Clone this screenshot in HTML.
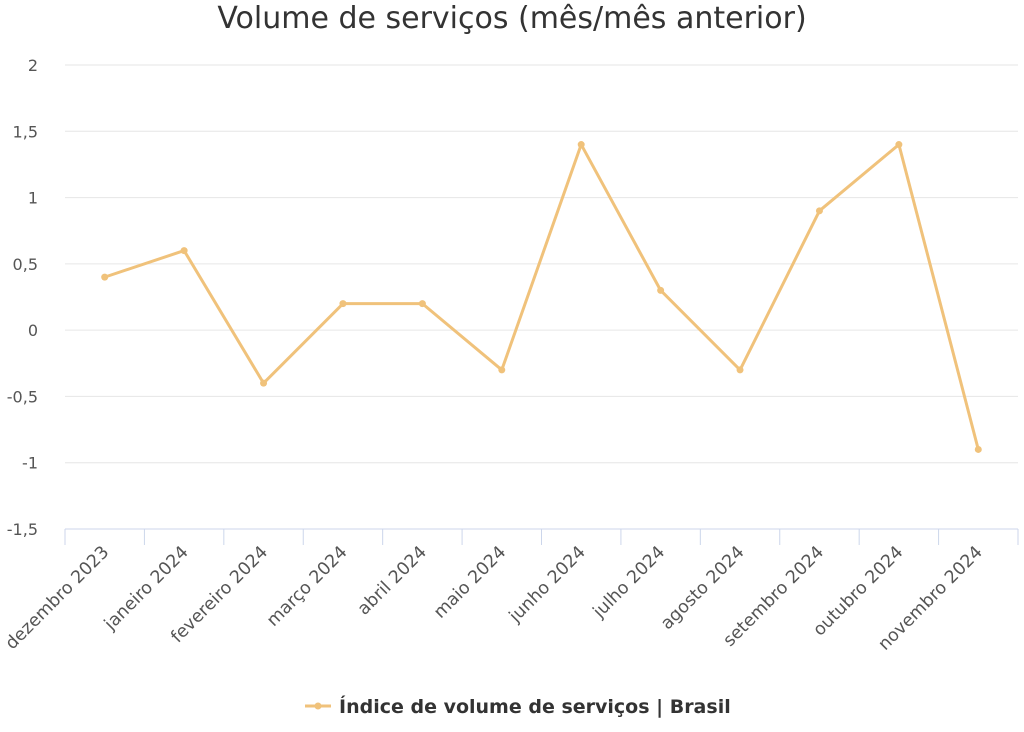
<!DOCTYPE html>
<html><head><meta charset="utf-8"><style>
body{margin:0;background:#fff;font-family:"Liberation Sans","DejaVu Sans",sans-serif}
</style></head><body>
<svg width="1024" height="727" xmlns="http://www.w3.org/2000/svg" id="c" style="font-family:'DejaVu Sans','Liberation Sans',sans-serif">
<text x="512" y="28" text-anchor="middle" font-size="30" fill="#333">Volume de serviços (mês/mês anterior)</text>
<g id="grid"></g><g id="xa"></g><g id="series"></g>
<g>
<line x1="305" y1="706" x2="331" y2="706" stroke="#f0c27b" stroke-width="3"/>
<circle cx="318" cy="706" r="3.5" fill="#f0c27b"/>
<text x="339" y="713" font-size="19" font-weight="bold" fill="#333">Índice de volume de serviços | Brasil</text>
</g>
</svg>
<script>
const categories=["dezembro 2023","janeiro 2024","fevereiro 2024","março 2024","abril 2024","maio 2024","junho 2024","julho 2024","agosto 2024","setembro 2024","outubro 2024","novembro 2024"];
const values=[0.4,0.6,-0.4,0.2,0.2,-0.3,1.4,0.3,-0.3,0.9,1.4,-0.9];
const yTicks=[2,1.5,1,0.5,0,-0.5,-1,-1.5];
const NS="http://www.w3.org/2000/svg";
const L=65,R=1018,T=65,B=529,ymin=-1.5,ymax=2;
const y=v=>B-(v-ymin)/(ymax-ymin)*(B-T);
const bw=(R-L)/categories.length;
const x=i=>L+bw*(i+0.5);
function mk(t,a,p){const e=document.createElementNS(NS,t);for(const k in a)e.setAttribute(k,a[k]);p.appendChild(e);return e;}
const g=document.getElementById('grid'),xa=document.getElementById('xa'),s=document.getElementById('series');
yTicks.forEach(v=>{
 if(v!==ymin){const l=mk('line',{x1:L,x2:R,y1:y(v),y2:y(v),stroke:'#e6e6e6'},g);
 
 }
 const t=mk('text',{x:38,y:y(v)+6,'text-anchor':'end','font-size':16,fill:'#555'},g);
 t.textContent=String(v).replace('.',',');
 
 
});
const ax=mk('line',{x1:L,x2:R,y1:B,y2:B,stroke:'#ccd6eb'},xa);


for(let i=0;i<=categories.length;i++){const tk=mk('line',{x1:L+bw*i,x2:L+bw*i,y1:B,y2:B+16,stroke:'#ccd6eb'},xa);
 
 }
categories.forEach((c,i)=>{
 const ax0=x(i)+5,ay0=B+24;
 const t=mk('text',{x:ax0,y:ay0,'text-anchor':'end','font-size':17.5,fill:'#555',transform:`rotate(-45 ${ax0} ${ay0})`},xa);
 t.textContent=c;
 
 
});
const ln=mk('polyline',{points:values.map((v,i)=>x(i)+','+y(v)).join(' '),fill:'none',stroke:'#f0c27b','stroke-width':3,'stroke-linejoin':'round'},s);


values.forEach((v,i)=>{const p=mk('circle',{cx:x(i),cy:y(v),r:3.5,fill:'#f0c27b'},s);
 
 });
</script>
</body></html>
